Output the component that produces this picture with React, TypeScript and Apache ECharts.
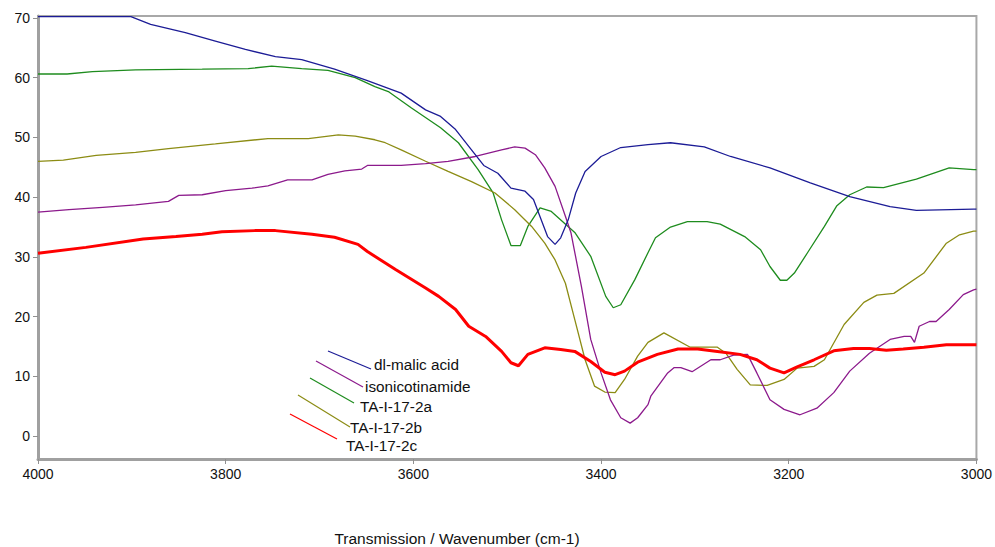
import React, { useEffect, useRef } from "react";
import * as echarts from "echarts";

const seriesNames = ["dl-malic acid", "isonicotinamide", "TA-I-17-2a", "TA-I-17-2b", "TA-I-17-2c"];
const xTicks = [4000, 3800, 3600, 3400, 3200, 3000];
const yTicks = [0, 10, 20, 30, 40, 50, 60, 70];

const malicWn = [4000, 3960, 3920, 3901, 3880, 3843, 3811, 3779, 3747, 3719, 3684, 3649, 3613, 3587, 3571, 3555, 3541, 3525, 3510, 3496, 3481, 3472, 3457, 3449, 3443, 3435, 3427, 3417, 3400, 3379, 3350, 3326, 3290, 3262, 3220, 3177, 3135, 3092, 3064, 3003, 3000];
const malicVal = [70.2, 70.2, 70.2, 70.2, 68.9, 67.5, 66.1, 64.7, 63.5, 63.0, 61.4, 59.5, 57.4, 54.6, 53.5, 51.3, 48.5, 45.3, 44.0, 41.5, 41.0, 39.6, 33.4, 32.1, 33.2, 36.2, 40.7, 44.3, 46.8, 48.3, 48.8, 49.1, 48.4, 46.8, 44.9, 42.4, 40.1, 38.4, 37.8, 38.0, 38.0];

const isoWn = [4000, 3967, 3931, 3896, 3861, 3850, 3825, 3800, 3772, 3755, 3734, 3708, 3691, 3673, 3655, 3649, 3613, 3587, 3563, 3534, 3506, 3492, 3481, 3470, 3460, 3449, 3438, 3432, 3421, 3411, 3400, 3390, 3379, 3369, 3361, 3350, 3347, 3329, 3322, 3315, 3303, 3283, 3273, 3258, 3244, 3234, 3220, 3205, 3188, 3170, 3152, 3135, 3114, 3092, 3077, 3070, 3066, 3061, 3050, 3043, 3029, 3014, 3003, 3000];
const isoVal = [37.5, 37.9, 38.3, 38.7, 39.3, 40.3, 40.4, 41.1, 41.5, 41.9, 42.9, 42.9, 43.8, 44.4, 44.7, 45.3, 45.3, 45.6, 46.0, 46.8, 47.9, 48.4, 48.2, 47.1, 44.9, 41.8, 36.8, 34.0, 25.1, 16.2, 10.6, 6.1, 3.1, 2.2, 3.1, 5.3, 6.7, 10.6, 11.5, 11.5, 10.8, 12.8, 12.8, 13.6, 13.7, 10.6, 6.1, 4.5, 3.6, 4.7, 7.3, 10.9, 13.9, 16.2, 16.7, 16.7, 15.7, 18.4, 19.2, 19.2, 21.2, 23.7, 24.5, 24.6];

const aWn = [4000, 3969, 3942, 3896, 3825, 3776, 3751, 3719, 3691, 3662, 3641, 3626, 3602, 3571, 3552, 3531, 3515, 3506, 3496, 3486, 3478, 3465, 3453, 3428, 3411, 3395, 3387, 3379, 3364, 3350, 3342, 3326, 3308, 3287, 3273, 3247, 3230, 3220, 3209, 3202, 3194, 3180, 3162, 3149, 3135, 3117, 3099, 3064, 3029, 3003, 3000];
const aVal = [60.6, 60.6, 61.0, 61.3, 61.4, 61.5, 61.9, 61.5, 61.2, 60.0, 58.5, 57.6, 54.9, 51.6, 49.1, 44.6, 40.7, 36.2, 31.9, 31.9, 35.1, 38.2, 37.6, 34.1, 30.1, 23.4, 21.5, 22.0, 26.2, 30.7, 33.2, 35.0, 35.9, 35.9, 35.5, 33.4, 31.2, 28.4, 26.1, 26.1, 27.3, 30.7, 35.1, 38.5, 40.4, 41.7, 41.6, 43.0, 44.9, 44.6, 44.6];

const bWn = [4000, 3973, 3938, 3896, 3861, 3811, 3755, 3712, 3680, 3662, 3641, 3630, 3613, 3587, 3563, 3538, 3513, 3492, 3474, 3460, 3449, 3438, 3428, 3417, 3407, 3396, 3385, 3375, 3361, 3350, 3333, 3305, 3276, 3267, 3255, 3241, 3223, 3205, 3191, 3173, 3162, 3141, 3120, 3106, 3088, 3056, 3032, 3018, 3003, 3000];
const bVal = [46.0, 46.2, 47.0, 47.5, 48.1, 48.9, 49.8, 49.8, 50.4, 50.2, 49.6, 49.1, 47.9, 46.0, 44.3, 42.6, 40.7, 37.9, 35.1, 32.3, 29.5, 25.6, 19.5, 12.8, 8.4, 7.4, 7.3, 9.5, 13.4, 15.7, 17.3, 14.9, 14.9, 13.9, 11.2, 8.6, 8.5, 9.5, 11.4, 11.7, 12.8, 18.7, 22.4, 23.6, 23.9, 27.3, 32.3, 33.7, 34.3, 34.3];

const cWn = [4000, 3949, 3888, 3853, 3825, 3804, 3769, 3747, 3708, 3684, 3659, 3649, 3619, 3587, 3573, 3555, 3541, 3523, 3506, 3496, 3488, 3478, 3460, 3443, 3428, 3411, 3396, 3385, 3375, 3361, 3340, 3318, 3297, 3276, 3252, 3234, 3220, 3205, 3191, 3173, 3152, 3131, 3114, 3096, 3078, 3056, 3032, 3003, 3000];
const cVal = [30.6, 31.6, 33.0, 33.4, 33.8, 34.2, 34.4, 34.4, 33.8, 33.3, 32.1, 30.9, 27.9, 24.8, 23.4, 21.2, 18.4, 16.7, 14.2, 12.3, 11.8, 13.7, 14.8, 14.5, 14.2, 12.5, 10.7, 10.3, 10.9, 12.4, 13.7, 14.6, 14.6, 14.2, 13.7, 12.8, 11.4, 10.6, 11.6, 12.8, 14.3, 14.7, 14.7, 14.4, 14.6, 14.9, 15.3, 15.3, 15.3];

const colors = ["#1c1c96", "#8c1a8c", "#1e8c1e", "#8c8c14", "#ff0000"];
const widths = [1.3, 1.3, 1.3, 1.3, 3];

const FONT = "'Liberation Sans', Arial, sans-serif";

export default function App() {
  const ref = useRef<HTMLDivElement>(null);
  useEffect(() => {
    document.body.style.margin = "0";
    const chart = echarts.init(ref.current!, null, { renderer: "svg" });
    const wns = [malicWn, isoWn, aWn, bWn, cWn];
    const vals = [malicVal, isoVal, aVal, bVal, cVal];
    const order = [2, 3, 1, 0, 4];
    const series = order.map((i) => ({
      name: seriesNames[i],
      type: "line",
      data: wns[i].map((w, k) => [w, vals[i][k]]),
      showSymbol: false,
      symbol: "none",
      lineStyle: { color: colors[i], width: widths[i] },
      itemStyle: { color: colors[i] },
      silent: true,
    }));

    const legendLines = [
      [328, 351, 371, 369],
      [316, 361, 363, 387],
      [310, 378, 354, 403],
      [298, 395, 350, 427],
      [290, 414, 337, 439],
    ];
    const legendText = [
      [374, 364],
      [365, 386],
      [360, 406],
      [350, 427],
      [346, 445],
    ];
    const graphic: any[] = [];
    legendLines.forEach((l, i) => {
      graphic.push({
        type: "line",
        shape: { x1: l[0], y1: l[1], x2: l[2], y2: l[3] },
        style: { stroke: colors[i], lineWidth: 1.2 },
        z: 100,
      });
      graphic.push({
        type: "text",
        x: legendText[i][0],
        y: legendText[i][1],
        style: {
          text: seriesNames[i],
          fill: "#111",
          font: `15.3px ${FONT}`,
          textVerticalAlign: "middle",
          verticalAlign: "middle",
        },
        z: 100,
      });
    });
    graphic.push({
      type: "text",
      x: 457,
      y: 538,
      style: {
        text: "Transmission / Wavenumber (cm-1)",
        fill: "#111",
        font: `15.5px ${FONT}`,
        align: "center",
        textAlign: "center",
        verticalAlign: "middle",
        textVerticalAlign: "middle",
      },
    });

    chart.setOption({
      animation: false,
      grid: {
        left: 38,
        right: 13,
        top: 16,
        bottom: 88,
        show: true,
        borderColor: "#a8a8a8",
        borderWidth: 2,
        backgroundColor: "transparent",
      },
      xAxis: {
        type: "value",
        min: 3000,
        max: 4000,
        interval: 200,
        inverse: true,
        splitLine: { show: false },
        axisLine: { show: true, onZero: false, lineStyle: { color: "#a0a0a0", width: 3 } },
        axisTick: { show: true, length: 5, lineStyle: { color: "#909090", width: 1 } },
        axisLabel: {
          color: "#111",
          fontSize: 14,
          fontFamily: FONT,
          margin: 8,
          customValues: xTicks,
          formatter: (v: number) => String(v),
        },
      },
      yAxis: {
        type: "value",
        min: -3.8,
        max: 70.3,
        splitLine: { show: false },
        axisLine: { show: true, onZero: false, lineStyle: { color: "#a0a0a0", width: 3 } },
        axisTick: { show: true, length: 5, lineStyle: { color: "#909090", width: 1 }, customValues: yTicks },
        axisLabel: {
          color: "#111",
          fontSize: 14,
          fontFamily: FONT,
          margin: 8,
          customValues: yTicks,
          formatter: (v: number) => String(v),
        },
      },
      series,
      graphic,
    });
    return () => chart.dispose();
  }, []);
  return <div ref={ref} style={{ width: 995, height: 547 }} />;
}
